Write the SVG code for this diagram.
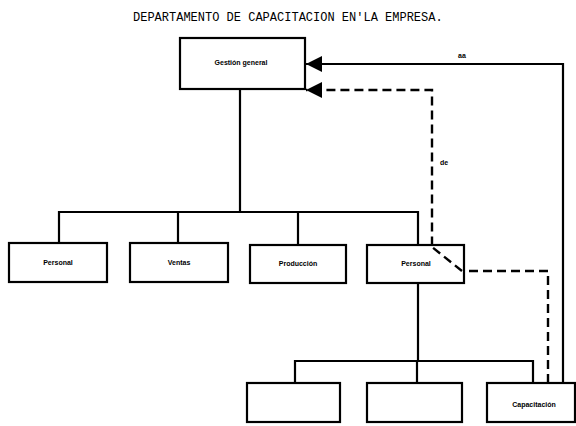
<svg xmlns="http://www.w3.org/2000/svg" width="576" height="426" viewBox="0 0 576 426">
<defs>
<style>
.box{fill:#fff;stroke:#000;stroke-width:2.2}
.ln{fill:none;stroke:#000;stroke-width:2.2}
.dash{fill:none;stroke:#000;stroke-width:2.4;stroke-dasharray:9 5}
.lbl{font-family:"Liberation Sans",Arial,sans-serif;font-size:7px;font-weight:bold;text-anchor:middle;fill:#000}
.title{font-family:"Liberation Mono","Courier New",monospace;font-size:12px;fill:#000}
</style>
<marker id="arr" viewBox="0 0 10 10" refX="10" refY="5" markerWidth="16" markerHeight="16" markerUnits="userSpaceOnUse" orient="auto">
<path d="M0,0 L10,5 L0,10 Z" fill="#000"/>
</marker>
</defs>
<rect width="576" height="426" fill="#fff"/>
<text class="title" x="133" y="21">DEPARTAMENTO DE CAPACITACION EN'LA EMPRESA.</text>
<g id="connectors">
<path class="ln" d="M240,89 V212 M59,243 V212 H418 V245 M178,212 V243 M298,212 V245"/>
<path class="ln" d="M418,283 V361 M295,383 V361 H533 V383 M417,361 V383"/>
<path class="ln" d="M563,383 V64 H306" marker-end="url(#arr)"/>
<path class="dash" d="M548,383 V271 H462 L432,247 V90 H306" marker-end="url(#arr)"/>
<text class="lbl" x="462" y="58">aa</text>
<text class="lbl" x="444" y="165">de</text>
</g>
<g id="n-gestion"><rect class="box" x="180" y="38" width="125" height="51"/><text class="lbl" x="241" y="65">Gestión general</text></g>
<g id="n-finanzas"><rect class="box" x="9" y="243" width="98" height="39"/><text class="lbl" x="58" y="265">Personal</text></g>
<g id="n-ventas"><rect class="box" x="130" y="243" width="98" height="39"/><text class="lbl" x="179" y="265">Ventas</text></g>
<g id="n-produccion"><rect class="box" x="250" y="245" width="96" height="38"/><text class="lbl" x="298" y="266">Producción</text></g>
<g id="n-personal"><rect class="box" x="367" y="245" width="97" height="38"/><text class="lbl" x="416" y="266">Personal</text></g>
<path class="dash" d="M462,271 L432,247"/>
<g id="n-b1"><rect class="box" x="247" y="383" width="93" height="39"/></g>
<g id="n-b2"><rect class="box" x="367" y="383" width="95" height="39"/></g>
<g id="n-capacitacion"><rect class="box" x="487" y="383" width="88" height="39"/><text class="lbl" x="534" y="407">Capacitación</text></g>
</svg>
